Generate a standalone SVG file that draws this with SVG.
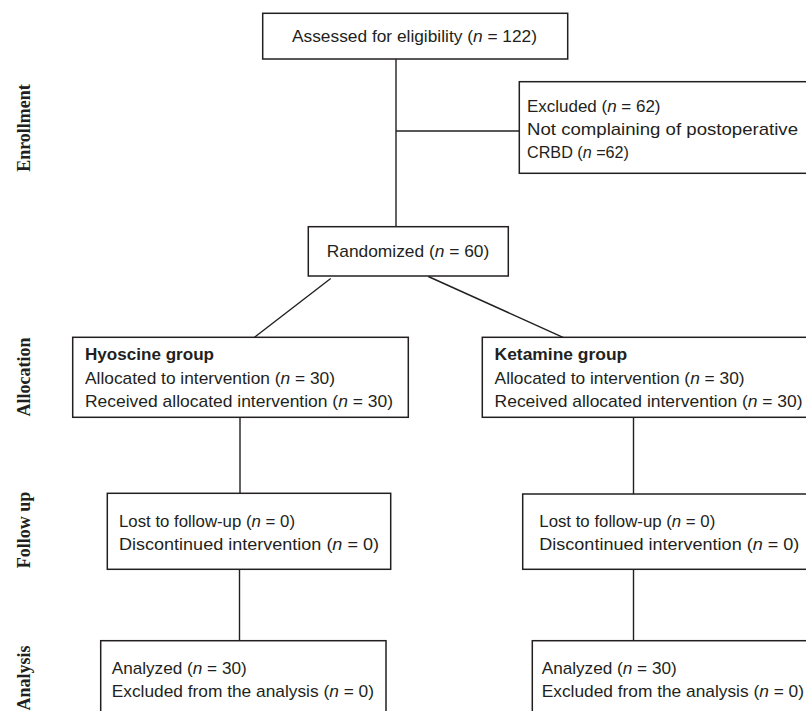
<svg xmlns="http://www.w3.org/2000/svg" width="806" height="711" viewBox="0 0 806 711">
<style>
.box{fill:#ffffff;stroke:#231f20;stroke-width:1.5}
.ln{fill:none;stroke:#231f20;stroke-width:1.4}
.t{font-family:"Liberation Sans",Arial,sans-serif;font-size:17px;fill:#231f20}
.b{font-weight:bold}
.i{font-style:italic}
.lab{font-family:"Liberation Serif","Times New Roman",serif;font-size:18px;font-weight:bold;fill:#231f20;text-anchor:middle}
</style>
<rect width="806" height="711" fill="#ffffff"/>
<g id="stage-labels">
<text class="lab" transform="translate(30,128) rotate(-90)">Enrollment</text>
<text class="lab" transform="translate(30,377) rotate(-90)">Allocation</text>
<text class="lab" transform="translate(30,530) rotate(-90)">Follow up</text>
<text class="lab" transform="translate(30,678) rotate(-90)">Analysis</text>
</g>
<g id="connectors">
<line class="ln" x1="396" y1="59" x2="396" y2="227"/>
<line class="ln" x1="396" y1="131" x2="519.3" y2="131"/>
<line class="ln" x1="330.7" y1="278.5" x2="254.5" y2="337.3"/>
<line class="ln" x1="428.3" y1="276.5" x2="563" y2="337.3"/>
<line class="ln" x1="240" y1="417.3" x2="240" y2="493.3"/>
<line class="ln" x1="633.5" y1="417.3" x2="633.5" y2="494"/>
<line class="ln" x1="239.5" y1="569.3" x2="239.5" y2="640.7"/>
<line class="ln" x1="633.5" y1="569.3" x2="633.5" y2="640.7"/>
</g>
<g id="assessed">
<rect class="box" x="262.7" y="13.3" width="305" height="45.7"/>
<text class="t" x="292" y="41.7" textLength="245" lengthAdjust="spacingAndGlyphs">Assessed for eligibility (<tspan class="i">n</tspan> = 122)</text>
</g>
<g id="excluded">
<rect class="box" x="519.3" y="81.7" width="300" height="91.6"/>
<text class="t" x="527" y="112" textLength="133.5" lengthAdjust="spacingAndGlyphs">Excluded (<tspan class="i">n</tspan> = 62)</text>
<text class="t" x="527" y="135" textLength="271" lengthAdjust="spacingAndGlyphs">Not complaining of postoperative</text>
<text class="t" x="527" y="158" textLength="102" lengthAdjust="spacingAndGlyphs">CRBD (<tspan class="i">n</tspan> =62)</text>
</g>
<g id="randomized">
<rect class="box" x="308.3" y="226.7" width="200" height="49.3"/>
<text class="t" x="326.7" y="257.3" textLength="162.6" lengthAdjust="spacingAndGlyphs">Randomized (<tspan class="i">n</tspan> = 60)</text>
</g>
<g id="hyoscine">
<rect class="box" x="72.7" y="337.3" width="335.6" height="80"/>
<text class="t b" x="85" y="360.3" textLength="129" lengthAdjust="spacingAndGlyphs">Hyoscine group</text>
<text class="t" x="85" y="384.3" textLength="250" lengthAdjust="spacingAndGlyphs">Allocated to intervention (<tspan class="i">n</tspan> = 30)</text>
<text class="t" x="85" y="407.3" textLength="308" lengthAdjust="spacingAndGlyphs">Received allocated intervention (<tspan class="i">n</tspan> = 30)</text>
</g>
<g id="ketamine">
<rect class="box" x="482.3" y="337.3" width="335.6" height="80"/>
<text class="t b" x="494.6" y="360.3" textLength="132.6" lengthAdjust="spacingAndGlyphs">Ketamine group</text>
<text class="t" x="494.6" y="384.3" textLength="250" lengthAdjust="spacingAndGlyphs">Allocated to intervention (<tspan class="i">n</tspan> = 30)</text>
<text class="t" x="494.6" y="407.3" textLength="308" lengthAdjust="spacingAndGlyphs">Received allocated intervention (<tspan class="i">n</tspan> = 30)</text>
</g>
<g id="followup-left">
<rect class="box" x="107.3" y="493.3" width="283.4" height="76"/>
<text class="t" x="119" y="526.7" textLength="176" lengthAdjust="spacingAndGlyphs">Lost to follow-up (<tspan class="i">n</tspan> = 0)</text>
<text class="t" x="119" y="549.5" textLength="260" lengthAdjust="spacingAndGlyphs">Discontinued intervention (<tspan class="i">n</tspan> = 0)</text>
</g>
<g id="followup-right">
<rect class="box" x="522.7" y="494" width="290" height="75.3"/>
<text class="t" x="539.3" y="526.7" textLength="176" lengthAdjust="spacingAndGlyphs">Lost to follow-up (<tspan class="i">n</tspan> = 0)</text>
<text class="t" x="539.3" y="549.5" textLength="260" lengthAdjust="spacingAndGlyphs">Discontinued intervention (<tspan class="i">n</tspan> = 0)</text>
</g>
<g id="analysis-left">
<rect class="box" x="100.7" y="640.7" width="285.3" height="90"/>
<text class="t" x="111.7" y="674.3" textLength="135" lengthAdjust="spacingAndGlyphs">Analyzed (<tspan class="i">n</tspan> = 30)</text>
<text class="t" x="111.7" y="697.3" textLength="262.3" lengthAdjust="spacingAndGlyphs">Excluded from the analysis (<tspan class="i">n</tspan> = 0)</text>
</g>
<g id="analysis-right">
<rect class="box" x="532.3" y="640.7" width="290" height="90"/>
<text class="t" x="541.7" y="674.3" textLength="135" lengthAdjust="spacingAndGlyphs">Analyzed (<tspan class="i">n</tspan> = 30)</text>
<text class="t" x="541.7" y="697.3" textLength="262.3" lengthAdjust="spacingAndGlyphs">Excluded from the analysis (<tspan class="i">n</tspan> = 0)</text>
</g>
</svg>
